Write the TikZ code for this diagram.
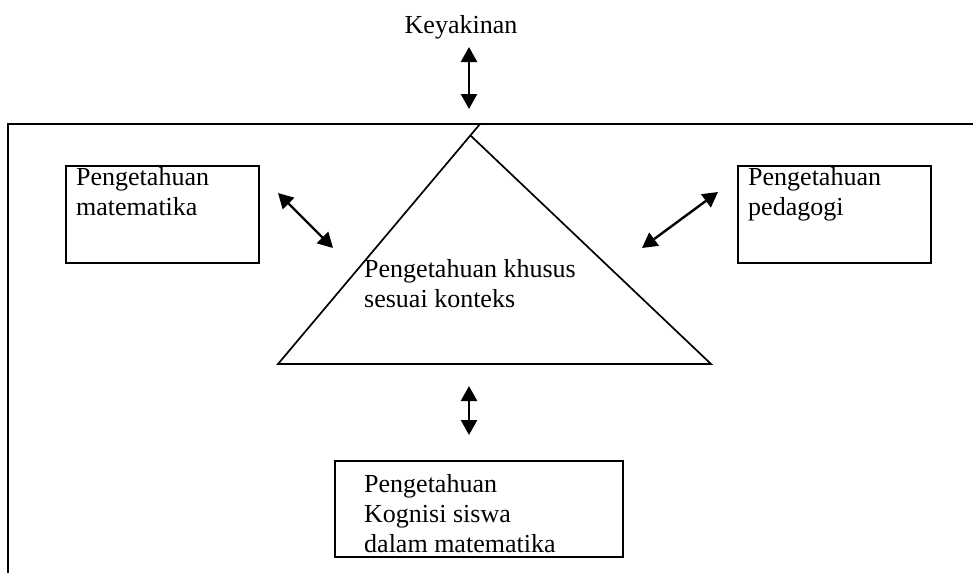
\documentclass[tikz,border=0pt]{standalone}
\usepackage{fontspec}
\setmainfont{Liberation Serif}
\usetikzlibrary{arrows.meta}
\begin{document}
\begin{tikzpicture}[x=1pt,y=-1pt,
  txt/.style={font=\fontsize{26}{30}\selectfont, inner sep=0pt, align=left},
  boxnode/.style={draw, line width=1.8pt, rectangle, inner sep=0pt, anchor=north west},
  dblarrow/.style={line width=2.4pt, {Triangle[width=16pt,length=15pt]}-{Triangle[width=16pt,length=15pt]}},
  frameline/.style={line width=1.9pt},
  triline/.style={line width=1.7pt, line join=miter}
]
\useasboundingbox (0,0) rectangle (973,573);
% outer frame (open on right and bottom)
\draw[frameline] (8,573) -- (8,124) -- (973,124);
% triangle
\coordinate (tapex) at (480,124);
\coordinate (tbl) at (278,364);
\coordinate (tbr) at (711,364);
\coordinate (tmeet) at (470.4,135.4);
\draw[triline] (tapex) -- (tbl) -- (tbr) -- (tmeet);
% texts
\node[txt, anchor=base] (keyakinan) at (461,33) {Keyakinan};
\node[txt, anchor=north west] (khusus) at (364,259) {Pengetahuan khusus\\sesuai konteks};
% boxes
\node[boxnode, minimum width=193pt, minimum height=97pt] (matbox) at (65,165) {};
\node[txt, anchor=north west] (mattxt) at (76,167) {Pengetahuan\\matematika};
\node[boxnode, minimum width=193pt, minimum height=97pt] (pedbox) at (737,165) {};
\node[txt, anchor=north west] (pedtxt) at (748,167) {Pengetahuan\\pedagogi};
\node[boxnode, minimum width=288pt, minimum height=96pt] (kogbox) at (334,460) {};
\node[txt, anchor=north west] (kogtxt) at (364,474) {Pengetahuan\\Kognisi siswa\\dalam matematika};
% arrow end points
\coordinate (a1s) at (469,47);
\coordinate (a1e) at (469,109);
\coordinate (a2s) at (278,193);
\coordinate (a2e) at (333,248);
\coordinate (a3s) at (718,192);
\coordinate (a3e) at (642,248);
\coordinate (a4s) at (469,386);
\coordinate (a4e) at (469,435);
\draw[dblarrow] (a1s) -- (a1e);
\draw[dblarrow] (a2s) -- (a2e);
\draw[dblarrow] (a3s) -- (a3e);
\draw[dblarrow] (a4s) -- (a4e);
\end{tikzpicture}
\end{document}
